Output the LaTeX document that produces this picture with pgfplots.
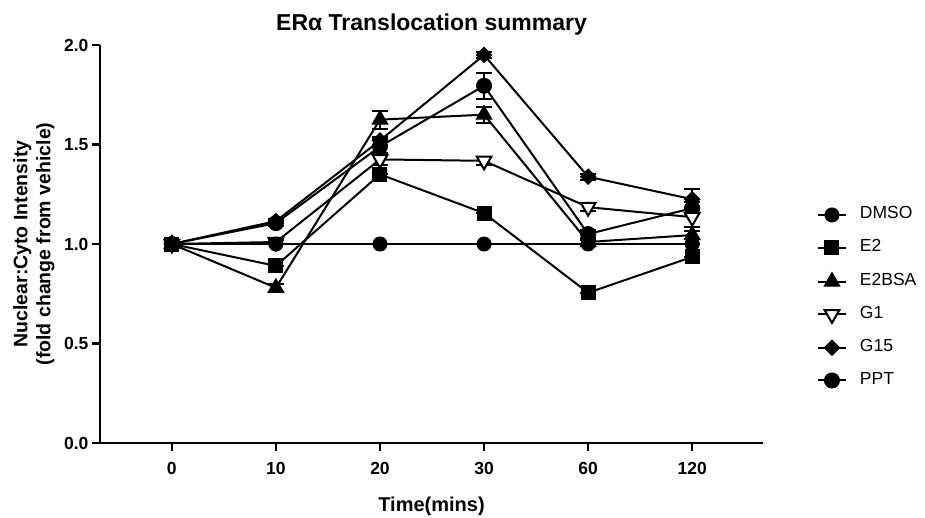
\documentclass[border=0pt]{standalone}
\usepackage{fontspec}
\setmainfont{Liberation Sans}
\usepackage{pgfplots}
\usepackage{pgfplotstable}
\pgfplotsset{compat=1.18}

\pgfplotstableread{
x DMSO E2 E2BSA E2BSAe G1 G1e G15 G15e PPT PPTe
0 1.000 1.000 1.000 0.000 1.000 0.000 1.000 0.000 1.000 0.000
1 1.000 0.890 0.780 0.020 1.010 0.010 1.115 0.010 1.105 0.015
2 1.000 1.350 1.625 0.045 1.425 0.030 1.520 0.020 1.490 0.040
3 1.000 1.155 1.650 0.040 1.418 0.020 1.950 0.015 1.795 0.065
4 1.000 0.755 1.010 0.010 1.185 0.020 1.338 0.015 1.050 0.020
5 1.000 0.935 1.045 0.020 1.135 0.050 1.225 0.050 1.180 0.030
}\data

\begin{document}
\begin{tikzpicture}
\useasboundingbox (-100pt,-74pt) rectangle (825pt,443pt);
\begin{axis}[
  scale only axis, width=663pt, height=398pt,
  xmin=-0.69, xmax=5.68, ymin=0, ymax=2,
  axis x line*=bottom, axis y line*=left,
  axis line style={line width=2.5pt, black},
  xtick={0,1,2,3,4,5}, xticklabels={0,10,20,30,60,120},
  ytick={0,0.5,1,1.5,2},
  yticklabel style={/pgf/number format/.cd, fixed, fixed zerofill, precision=1},
  /pgf/number format/assume math mode=true,
  tick align=outside, major tick length=8pt,
  every tick/.style={black, line width=2.5pt},
  ticklabel style={font=\fontsize{17.5}{20}\selectfont\bfseries},
  xticklabel style={anchor=base, yshift=-23pt},
  title={ERα Translocation summary},
  title style={font=\fontsize{23}{27}\selectfont\bfseries, at={(axis description cs:0.5,1)}, anchor=base, yshift=8pt},
  xlabel={Time(mins)},
  xlabel style={font=\fontsize{20}{24}\selectfont\bfseries, at={(axis description cs:0.5,0)}, anchor=base, yshift=-68pt},
  ylabel={Nuclear:Cyto Intensity\\(fold change from vehicle)},
  ylabel style={font=\fontsize{19.5}{23}\selectfont\bfseries, align=center, at={(axis description cs:-0.1312,0.5)}, anchor=north, inner sep=0pt},
  clip=false,
  reverse legend,
  legend style={draw=none, fill=none, at={(axis description cs:1.0814,0.593)}, anchor=north west,
    inner sep=0pt, outer sep=0pt, row sep=16.8pt, column sep=13pt,
    font=\fontsize{17.5}{20}\selectfont,
    nodes={inner sep=0pt, text height=12pt, text depth=4pt}},
  legend cell align=left,
  legend image code/.code={\draw[mark repeat=2, mark phase=2] plot coordinates {(0pt,0pt)(14pt,0pt)(28pt,0pt)};},
  every axis plot/.append style={black, line width=2pt},
  error bars/y dir=both, error bars/y explicit,
  error bars/error bar style={line width=2pt, black},
  error bars/error mark options={rotate=90, line width=2pt, mark size=8pt, black},
]
\addplot[mark=*, mark size=7.5pt, mark options={solid, line width=1pt}]
  table[x=x, y=PPT, y error=PPTe] {\data};
\addlegendentry{PPT}
\addplot[mark=square*, mark size=5.4pt, mark options={solid, line width=1pt, rotate=45}]
  table[x=x, y=G15, y error=G15e] {\data};
\addlegendentry{G15}
\addplot[mark=triangle*, mark size=8.5pt, mark options={solid, line width=2pt, rotate=180, fill=white}]
  table[x=x, y=G1, y error=G1e] {\data};
\addlegendentry{G1}
\addplot[mark=triangle*, mark size=9pt, mark options={solid, line width=1pt}]
  table[x=x, y=E2BSA, y error=E2BSAe] {\data};
\addlegendentry{E2BSA}
\addplot[mark=square*, mark size=7pt, mark options={solid, line width=1pt}]
  table[x=x, y=E2, y error expr=0] {\data};
\addlegendentry{E2}
\addplot[mark=*, mark size=7pt, mark options={solid, line width=1pt}]
  table[x=x, y=DMSO, y error expr=0] {\data};
\addlegendentry{DMSO}
\end{axis}
\end{tikzpicture}
\end{document}
